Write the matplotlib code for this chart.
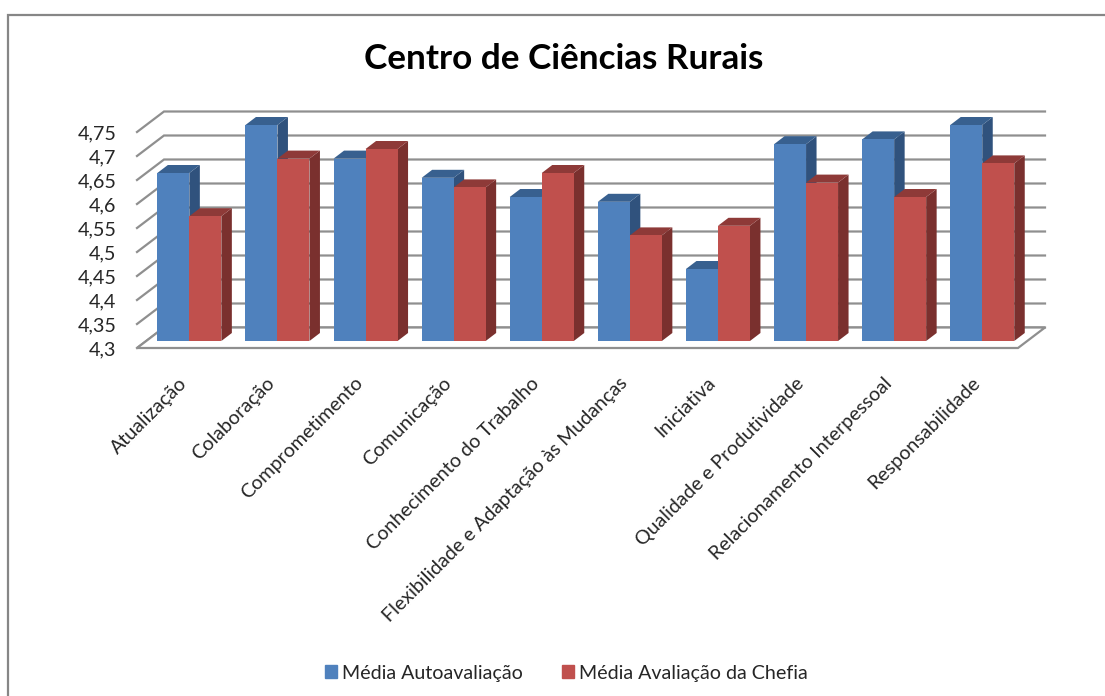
import matplotlib
matplotlib.use("Agg")
import matplotlib.pyplot as plt
from matplotlib.lines import Line2D
from matplotlib.patches import Patch, Polygon

categories = ["Atualização", "Colaboração", "Comprometimento", "Comunicação",
              "Conhecimento do Trabalho", "Flexibilidade e Adaptação às Mudanças",
              "Iniciativa", "Qualidade e Produtividade",
              "Relacionamento Interpessoal", "Responsabilidade"]
auto = [4.65, 4.75, 4.68, 4.64, 4.60, 4.59, 4.45, 4.71, 4.72, 4.75]
chefia = [4.56, 4.68, 4.70, 4.62, 4.65, 4.52, 4.54, 4.63, 4.60, 4.67]
ticks = [4.3, 4.35, 4.4, 4.45, 4.5, 4.55, 4.6, 4.65, 4.7, 4.75]
tick_labels = ["4,3", "4,35", "4,4", "4,45", "4,5", "4,55", "4,6", "4,65", "4,7", "4,75"]
series_names = ["Média Autoavaliação", "Média Avaliação da Chefia"]

W, H = 1105, 696
FONT = "Lato"
plt.rcParams["font.family"] = [FONT, "DejaVu Sans"]
fig = plt.figure(figsize=(W / 100, H / 100), dpi=100, facecolor="white")

L, R, B, T = 137, 1018, 348, 132
ax = fig.add_axes([L / W, 1 - B / H, (R - L) / W, (B - T) / H])
ax.set_xlim(-0.5, 9.5)
ax.set_ylim(4.3, 4.75)
ax.patch.set_visible(False)
for s in ax.spines.values():
    s.set_visible(False)

PX = 10 / (R - L)
PY = 0.45 / (B - T)
GRID = "#8F8F8F"

# walls
WDX, WDY = 27 * PX, 20.5 * PY
for v in ticks:
    ax.plot([-0.5, -0.5 + WDX, 9.5 + WDX], [v, v + WDY, v + WDY], color=GRID, lw=1.6,
            clip_on=False, zorder=1, solid_joinstyle="miter")
# floor
ax.add_patch(Polygon([(-0.5, 4.3), (9.5, 4.3), (9.5 + WDX, 4.3 + WDY), (-0.5 + WDX, 4.3 + WDY)],
                     closed=True, fc="white", ec=GRID, lw=1.6, clip_on=False, zorder=2))

# bars
BW = 32 * PX
SX, SY = 8.3 * PX, 7 * PY
DX, DY = 10.5 * PX, 8 * PY
STYLES = [("#4F81BD", "#30527D", "#38608F"), ("#C0504D", "#7A302E", "#8E3A38")]
z = 3
for i in range(len(categories)):
    for j, vals in enumerate((auto, chefia)):
        x0 = i + SX - BW + j * BW
        x1 = x0 + BW
        y0 = 4.3 + SY
        y1 = vals[i] + SY
        front, side, top = STYLES[j]
        ax.add_patch(Polygon([(x1, y0), (x1 + DX, y0 + DY), (x1 + DX, y1 + DY), (x1, y1)],
                             closed=True, fc=side, ec="none", clip_on=False, zorder=z))
        ax.add_patch(Polygon([(x0, y1), (x1, y1), (x1 + DX, y1 + DY), (x0 + DX, y1 + DY)],
                             closed=True, fc=top, ec="none", clip_on=False, zorder=z))
        ax.bar([x0 + BW / 2], [vals[i] - 4.3], width=BW, bottom=y0, color=front,
               clip_on=False, zorder=z + 0.5)
        z += 1

ax.set_yticks(ticks)
ax.set_yticklabels(tick_labels, fontsize=14.2, color="#262626")
ax.tick_params(axis="y", length=0, pad=15)
ax.set_xticks([i - 3 * PX for i in range(len(categories))])
ax.set_xticklabels(categories, rotation=45, ha="right", va="top", rotation_mode="anchor",
                   fontsize=14.1, color="#262626")
ax.tick_params(axis="x", length=0, pad=19)

fig.text(564 / W, 1 - 59 / H, "Centro de Ciências Rurais", ha="center", va="center",
         fontsize=25.3, fontweight="bold", color="black")

# outer frame: top and left edges only
fig.add_artist(Line2D([8 / W, 8 / W, 1], [0, 1 - 15 / H, 1 - 15 / H], transform=fig.transFigure,
                      color="#868686", lw=1.6, solid_joinstyle="miter"))

handles = [Patch(color=STYLES[0][0], label=series_names[0]),
           Patch(color=STYLES[1][0], label=series_names[1])]
fig.legend(handles=handles, loc="center", bbox_to_anchor=(566.5 / W, 1 - 673 / H), ncol=2,
           frameon=False, fontsize=14.1, handlelength=0.61, handleheight=0.61,
           handletextpad=0.27, columnspacing=2.0, labelcolor="#262626")

fig.savefig("out.png", dpi=100)
